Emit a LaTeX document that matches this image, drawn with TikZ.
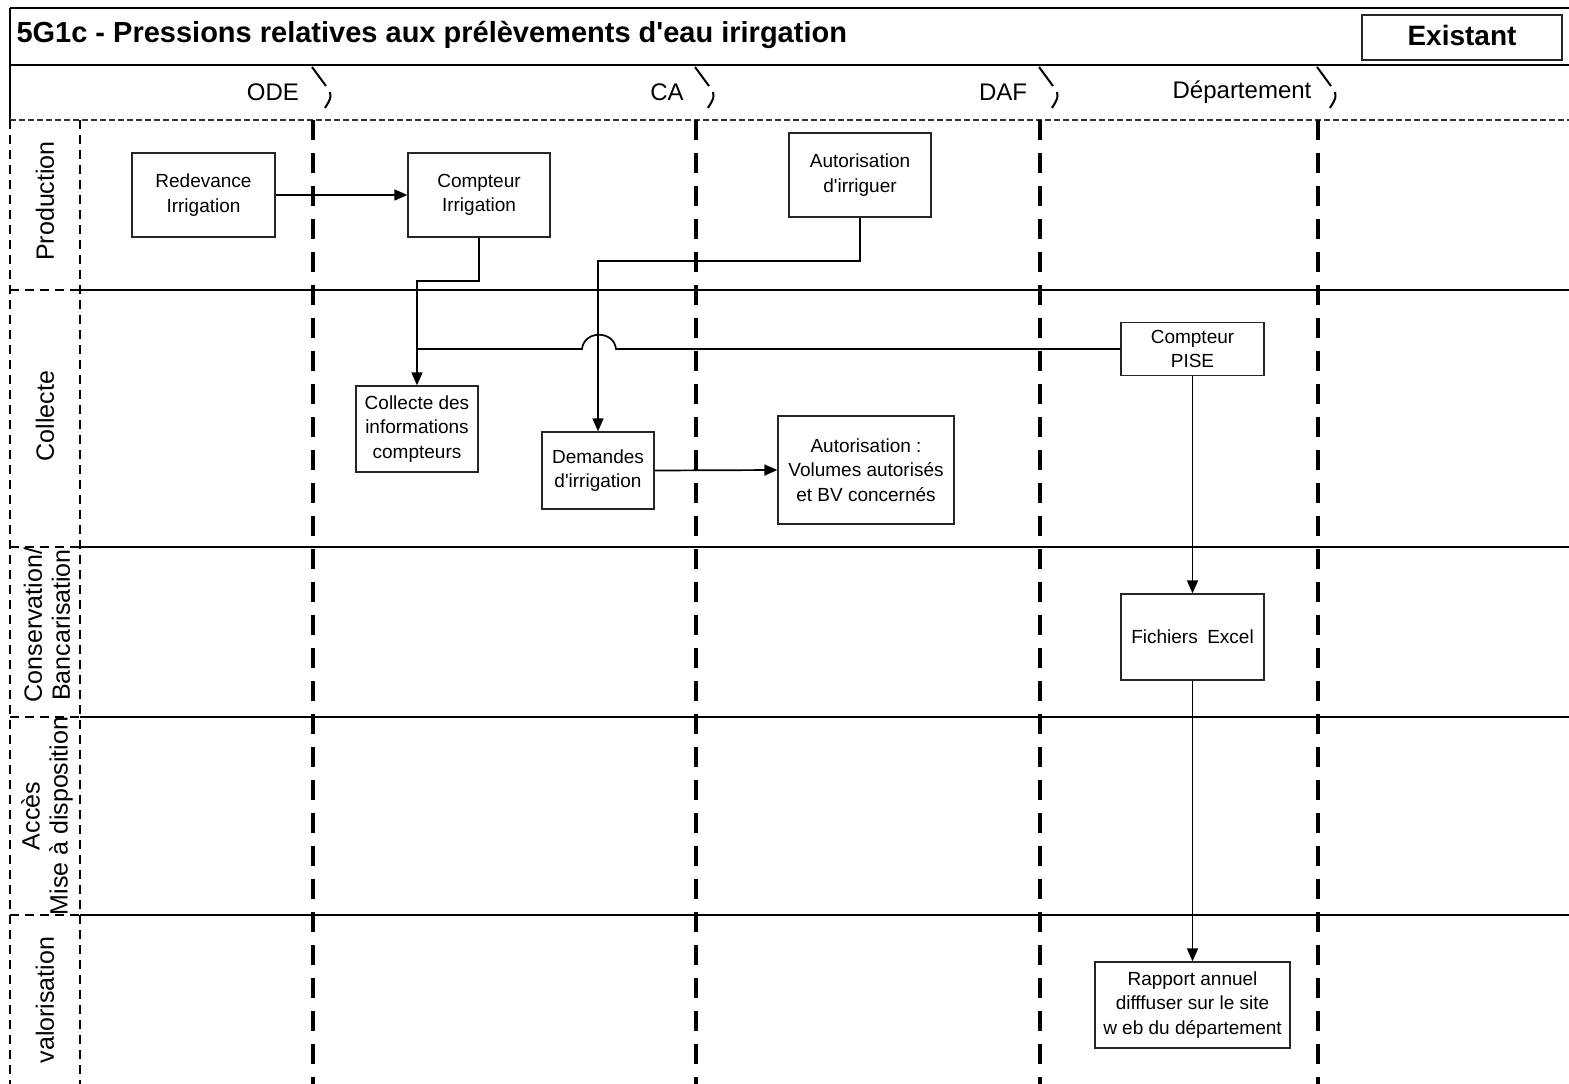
\documentclass[tikz,border=0pt]{standalone}
\usepackage{fontspec}
\setmainfont{Liberation Sans}
\usetikzlibrary{arrows.meta}
\begin{document}
\begin{tikzpicture}[x=1pt,y=-1pt,
  box/.style={draw=black!85,line width=1.3pt,fill=white,inner sep=2pt,align=center,font=\fontsize{19}{24.5}\selectfont},
  conn/.style={line width=1.7pt},
  arr/.style={conn,-{Triangle[length=13pt,width=11pt]}},
  lane/.style={line width=3.5pt,dash pattern=on 20pt off 13pt},
  lcol/.style={line width=1.8pt,dash pattern=on 9pt off 6pt},
  phase/.style={line width=1.8pt},
  lbl/.style={font=\fontsize{24}{28}\selectfont,align=center},
  plbl/.style={font=\fontsize{25}{28}\selectfont,align=center,rotate=90},
  sep/.style={line width=2pt}]
\useasboundingbox (0,0) rectangle (1569,1084);
% title band
\draw[line width=1.3pt] (10,8) -- (1569,8);
\draw[line width=1.3pt] (10,8) -- (10,120);
\draw[line width=1.3pt] (10,65) -- (1569,65);
\node[anchor=west,font=\fontsize{29}{32}\selectfont\bfseries] (title) at (13,35) {5G1c - Pressions relatives aux prélèvements d\textquotesingle eau irirgation};
\draw[draw=black!85,line width=1.3pt] (1362,15) rectangle (1562,60);
\node[font=\fontsize{28}{30}\selectfont\bfseries] (exist) at (1462,35) {Existant};
% header row
\draw[line width=1.3pt,dash pattern=on 6pt off 3pt,black!80] (10,120) -- (1569,120);
\node[lbl] (hode) at (273,92) {ODE};
\node[lbl] (hca) at (667,92) {CA};
\node[lbl] (hdaf) at (1003,92) {DAF};
\node[lbl] (hdep) at (1242,92) {Département};
\foreach \x in {313,696,1040,1318}{
  \draw[sep] (\x-1,67) -- (\x+13,86);
  \draw[sep] (\x+17,92) .. controls (\x+18,98) .. (\x+12,108);
  \draw[lane] (\x,120) -- (\x,1084);
}
% left column
\draw[lcol] (10,120) -- (10,1084);
\draw[lcol] (80,120) -- (80,1084);
\foreach \y in {290,547,717,915}{
  \draw[lcol] (10,\y) -- (80,\y);
  \draw[phase] (80,\y) -- (1569,\y);
}
\node[plbl] (pprod) at (45,201) {Production};
\node[plbl] (pcoll) at (45,416) {Collecte};
\node[plbl] (pcons) at (47,625) {Conservation/\\Bancarisation};
\node[plbl] (pacc) at (47,816) {Accès\\Mise à disposition};
\node[plbl] (pval) at (45,1000) {valorisation};
% boxes
\node[box,minimum width=143pt,minimum height=84pt] (red) at (203.5,195) {Redevance\\Irrigation};
\node[box,minimum width=142pt,minimum height=84pt] (cirr) at (479,195) {Compteur\\Irrigation};
\node[box,minimum width=142pt,minimum height=84pt] (airr) at (860,175) {Autorisation\\d\textquotesingle irriguer};
\node[box,minimum width=143pt,minimum height=53pt] (pise) at (1192.5,349) {Compteur\\PISE};
\node[box,minimum width=122pt,minimum height=86pt] (coll) at (417,429) {Collecte des\\informations\\compteurs};
\node[box,minimum width=112pt,minimum height=77pt] (dem) at (598,470.5) {Demandes\\d\textquotesingle irrigation};
\node[box,minimum width=176pt,minimum height=108pt] (avol) at (866,470) {Autorisation :\\Volumes autorisés\\et BV concernés};
\node[box,minimum width=143pt,minimum height=86pt] (excel) at (1192.5,637) {Fichiers\enspace Excel};
\node[box,minimum width=195pt,minimum height=86pt] (rapp) at (1192.5,1005) {Rapport annuel\\difffuser sur le site\\w eb du département};
% connectors
\coordinate (j1) at (417,349);
\draw[arr] (red.east) -- (cirr.west);
\draw[arr] (cirr.south) -- ++(0,43) -| (coll.north);
\draw[arr] (airr.south) -- ++(0,43) -| (dem.north);
\draw[conn] (pise.west) -- (616,349) .. controls (614,330) and (584,330) .. (582,349) -- (j1);
\draw[arr] (dem.east) -- (avol.west);
\draw[arr] (pise.south) -- (excel.north);
\draw[arr] (excel.south) -- (rapp.north);
\end{tikzpicture}
\end{document}
